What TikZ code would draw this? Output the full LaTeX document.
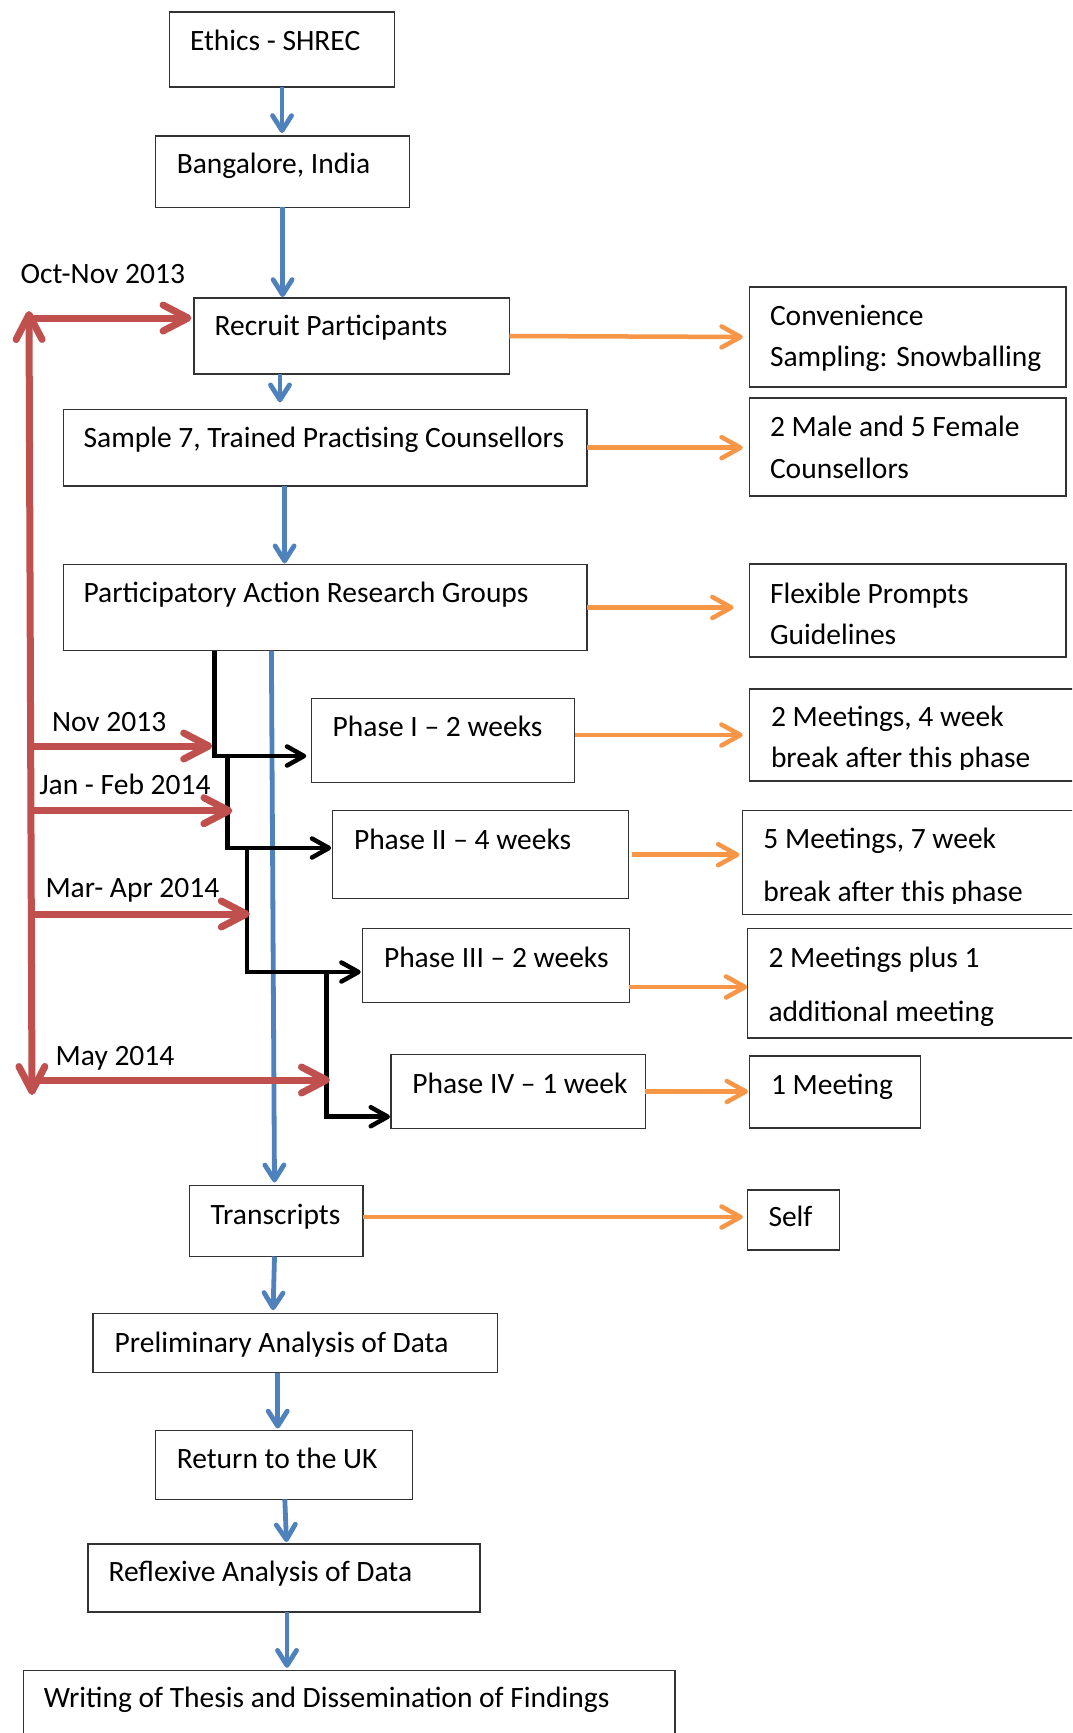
\documentclass[tikz,border=0pt]{standalone}
\usepackage{fontspec}
\setmainfont{Carlito}
\usetikzlibrary{arrows.meta,fit,calc}
\definecolor{cred}{HTML}{C0504D}
\definecolor{cblue}{HTML}{4F81BD}
\definecolor{corange}{HTML}{F79646}
\newcommand\bx[8]{\node[box, fit={(#2,#3) (#4,#5)}] (#1) {};\node[txt] (#1t) at (#6,#7) {#8};}
\begin{document}
\begin{tikzpicture}[x=1pt,y=-1pt,
 box/.style={draw=black!80, line width=1.3pt, inner sep=0pt, outer sep=0pt},
 txt/.style={anchor=base west, inner sep=0pt, outer sep=0pt, font=\fontsize{29.5}{35}\selectfont},
 barrow/.style={cblue, line width=4.8pt, -{Straight Barb[length=15pt,width=19pt,round]}},
 oarrow/.style={corange, line width=4.5pt, -{Straight Barb[length=19pt,width=21pt,round]}},
 karrow/.style={black, line width=4.5pt, -{Straight Barb[length=17pt,width=19pt,round]}},
 rarrow/.style={cred, line width=7pt, -{Straight Barb[length=25pt,width=26pt,round]}},
 rdarrow/.style={cred, line width=7pt, {Straight Barb[length=25pt,width=26pt,round]}-{Straight Barb[length=25pt,width=26pt,round]}}]
\useasboundingbox (0,0) rectangle (1072,1733);
\clip (0,0) rectangle (1072,1733);
\fill[white] (0,0) rectangle (1072,1733);

% left column boxes
\bx{ethics}{169.6}{12}{394.5}{87}{190}{50.5}{Ethics - SHREC}
\bx{bang}{155.6}{136}{409.6}{207.3}{176.8}{173.5}{Bangalore, India}
\bx{recruit}{194}{298}{509.4}{374}{214.7}{335.5}{Recruit Participants}
\bx{sample}{63.6}{409.3}{587}{486}{83.6}{447.2}{Sample 7, Trained Practising Counsellors}
\bx{par}{63.6}{564.3}{587}{650.7}{83.6}{602.2}{Participatory Action Research Groups}
\bx{ph1}{311.3}{698.3}{574.7}{782.3}{332.7}{736.5}{Phase I -- 2 weeks}
\bx{ph2}{332.7}{810.7}{628.7}{898.7}{354}{849.5}{Phase II -- 4 weeks}
\bx{ph3}{362.7}{928.3}{629.3}{1002.7}{384}{967.2}{Phase III -- 2 weeks}
\bx{ph4}{391}{1054.3}{645.3}{1128.7}{412.3}{1093.2}{Phase IV -- 1 week}
\bx{trans}{189.7}{1185.4}{363}{1256.5}{210.7}{1224.5}{Transcripts}
\bx{prelim}{92.9}{1313.2}{497.8}{1372.6}{114.7}{1352.3}{Preliminary Analysis of Data}
\bx{ret}{155.4}{1430.5}{412.5}{1499.3}{176.8}{1468.8}{Return to the UK}
\bx{refl}{88}{1544}{480}{1612}{108.5}{1581.1}{Reflexive Analysis of Data}
\bx{writ}{23.2}{1670.3}{675}{1760}{43.75}{1707.5}{Writing of Thesis and Dissemination of Findings}

% right column boxes
\node[box, fit={(749.3,287) (1066,387)}] (conv) {};
\node[txt] (conv1) at (770,325.5) {Convenience};
\node[txt] (conv2) at (770,366.5) {Sampling: Snowballing};
\node[box, fit={(749.3,398) (1066,496)}] (male) {};
\node[txt] (male1) at (770,436.5) {2 Male and 5 Female};
\node[txt] (male2) at (770,478.5) {Counsellors};
\node[box, fit={(749.3,564) (1066,657)}] (flex) {};
\node[txt] (flex1) at (770,603.5) {Flexible Prompts};
\node[txt] (flex2) at (770,644.5) {Guidelines};
\node[box, fit={(749.7,689) (1090,781)}] (meet1) {};
\node[txt] (meet1a) at (771,726.9) {2 Meetings, 4 week};
\begin{scope}
\clip (740,740) rectangle (1072,769.8);
\node[txt] (meet1b) at (771,767.8) {break after this phase};
\end{scope}
\node[box, fit={(742.8,810.7) (1090,914.6)}] (meet2) {};
\node[txt] (meet2a) at (763.4,848.4) {5 Meetings, 7 week};
\begin{scope}
\clip (740,870) rectangle (1072,903.8);
\node[txt] (meet2b) at (763.4,901.7) {break after this phase};
\end{scope}
\node[box, fit={(747.3,928.2) (1090,1037.9)}] (meet3) {};
\node[txt] (meet3a) at (768.5,967.3) {2 Meetings plus 1};
\node[txt] (meet3b) at (768.5,1021.5) {additional meeting};
\node[box, fit={(749.7,1056) (920.6,1128)}] (meet4) {};
\node[txt] (meet4t) at (771,1094.5) {1 Meeting};
\node[box, fit={(747.3,1190) (839.2,1250)}] (self) {};
\node[txt] (selft) at (768.5,1226.5) {Self};

% date labels
\node[txt] (l0) at (20.7,283.8) {Oct-Nov 2013};
\node[txt] (l1) at (52,731.5) {Nov 2013};
\node[txt] (l2) at (39.3,794.5) {Jan - Feb 2014};
\node[txt] (l3) at (45.5,897.2) {Mar- Apr 2014};
\node[txt] (l4) at (55.7,1065.5) {May 2014};

% helper coordinates
\coordinate (x280) at (280,0);
\coordinate (x284) at (284.6,0);
\coordinate (k1) at (214.7,0);
\coordinate (k2) at (227.4,0);
\coordinate (k3) at (246.8,0);
\coordinate (k4) at (326.7,0);
\coordinate (y756) at (0,756);
\coordinate (y848) at (0,848);
\coordinate (y972) at (0,972);
\coordinate (y1117) at (0,1116.7);
\coordinate (y987) at (0,987);
\coordinate (y1217) at (0,1217);
\coordinate (rtop) at (29,311);
\coordinate (rbot) at (32,1095);

% blue flow
\draw[barrow, shorten >=3pt] (ethics.south) -- (ethics.south |- bang.north);
\draw[barrow, shorten >=1pt] (bang.south) -- (bang.south |- recruit.north);
\draw[barrow, shorten >=7pt] (recruit.south -| x280) -- (sample.north -| x280);
\draw[barrow, shorten >=1pt] (sample.south -| x284) -- (par.north -| x284);
\draw[barrow, shorten >=3pt] ($(par.south west)+(207.8,0)$) -- ($(trans.north west)+(84.8,0)$);
\draw[barrow, shorten >=3pt] ($(trans.south west)+(84.8,0)$) -- ($(prelim.north west)+(180.1,0)$);
\draw[barrow, shorten >=2pt] ($(prelim.south west)+(184.8,0)$) -- ($(ret.north west)+(122.3,0)$);
\draw[barrow, shorten >=2pt] ($(ret.south west)+(129.4,0)$) -- ($(refl.north west)+(198.6,0)$);
\draw[barrow, shorten >=2.5pt] ($(refl.south west)+(199,0)$) -- ($(writ.north west)+(263.8,0)$);

% black phase connectors
\draw[karrow, shorten >=5pt] (par.south -| k1) |- (ph1.west |- y756);
\draw[karrow, shorten >=1.5pt] (k2 |- y756) |- (ph2.west |- y848);
\draw[karrow, shorten >=2pt] (k3 |- y848) |- (ph3.west |- y972);
\draw[karrow, shorten >=1pt] (k4 |- y972) |- (ph4.west |- y1117);

% red timeline
\draw[rdarrow] (rtop) -- (rbot);
\draw[rarrow, shorten >=2.5pt] (29.5,318) -- (recruit.west |- 0,318);
\draw[rarrow, shorten >=2.5pt] (30.5,746) -- (k1 |- 0,746);
\draw[rarrow, shorten >=-5pt] (30.5,810.7) -- (k2 |- 0,810.7);
\draw[rarrow, shorten >=-3pt] (31,914) -- (k3 |- 0,914);
\draw[rarrow, shorten >=-3.3pt] (31.5,1080) -- (k4 |- 0,1080);

% orange side connectors
\draw[oarrow, shorten >=6.5pt] (recruit.east) -- (conv.west);
\draw[oarrow, shorten >=6.5pt] (sample.east) -- (male.west |- sample.east);
\draw[oarrow, shorten >=15.7pt] (par.east) -- (flex.west |- par.east);
\draw[oarrow, shorten >=7pt] (ph1.east |- meet1.west) -- (meet1.west);
\draw[oarrow, shorten >=3.4pt, shorten <=3pt] (ph2.east) -- (meet2.west |- ph2.east);
\draw[oarrow] (ph3.east |- y987) -- (meet3.west |- y987);
\draw[oarrow, shorten >=1.7pt] (ph4.east) -- (meet4.west |- ph4.east);
\draw[oarrow, shorten >=4.5pt] (trans.east |- y1217) -- (self.west |- y1217);
\end{tikzpicture}
\end{document}
